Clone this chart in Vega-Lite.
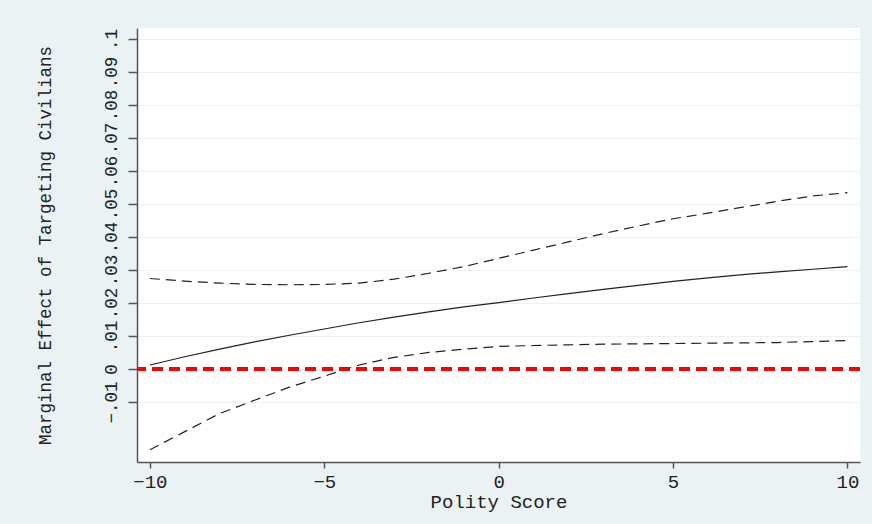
{
  "$schema": "https://vega.github.io/schema/vega-lite/v6.json",
  "width": 723,
  "height": 434,
  "autosize": {"type": "none"},
  "padding": {"left": 137, "top": 28, "right": 12, "bottom": 62},
  "background": "#EAF2F3",
  "config": {
    "view": {"stroke": null, "fill": "white"},
    "font": "Liberation Mono",
    "axis": {
      "labelFont": "Liberation Mono",
      "titleFont": "Liberation Mono",
      "labelColor": "#222",
      "titleColor": "#222",
      "titleFontWeight": "normal",
      "domainColor": "#555",
      "domainWidth": 1.5,
      "tickColor": "#555",
      "tickWidth": 1.5,
      "labelBound": false
    }
  },
  "data": {
    "values": [
      {"polity": -10, "est": 0.0012, "lo": -0.0245, "hi": 0.0274},
      {"polity": -9, "est": 0.0037, "lo": -0.019, "hi": 0.0266},
      {"polity": -8, "est": 0.006, "lo": -0.0135, "hi": 0.026},
      {"polity": -7, "est": 0.0082, "lo": -0.0095, "hi": 0.0256},
      {"polity": -6, "est": 0.0102, "lo": -0.0055, "hi": 0.0255},
      {"polity": -5, "est": 0.0121, "lo": -0.0022, "hi": 0.0256},
      {"polity": -4, "est": 0.014, "lo": 0.0012, "hi": 0.026},
      {"polity": -3, "est": 0.0157, "lo": 0.0035, "hi": 0.0272},
      {"polity": -2, "est": 0.0173, "lo": 0.005, "hi": 0.029},
      {"polity": -1, "est": 0.0188, "lo": 0.006, "hi": 0.031},
      {"polity": 0, "est": 0.0201, "lo": 0.0068, "hi": 0.0335},
      {"polity": 1, "est": 0.0215, "lo": 0.0071, "hi": 0.036},
      {"polity": 2, "est": 0.0228, "lo": 0.0073, "hi": 0.0385},
      {"polity": 3, "est": 0.0241, "lo": 0.0075, "hi": 0.041},
      {"polity": 4, "est": 0.0253, "lo": 0.0076, "hi": 0.0433},
      {"polity": 5, "est": 0.0265, "lo": 0.0077, "hi": 0.0455},
      {"polity": 6, "est": 0.0276, "lo": 0.0078, "hi": 0.0472},
      {"polity": 7, "est": 0.0286, "lo": 0.0079, "hi": 0.049},
      {"polity": 8, "est": 0.0294, "lo": 0.008, "hi": 0.0508},
      {"polity": 9, "est": 0.0302, "lo": 0.0083, "hi": 0.0524},
      {"polity": 10, "est": 0.031, "lo": 0.0086, "hi": 0.0534}
    ]
  },
  "layer": [
    {
      "mark": {"type": "line", "color": "#222", "strokeWidth": 1.2},
      "encoding": {
        "x": {
          "field": "polity", "type": "quantitative",
          "scale": {"domain": [-10.37, 10.36], "nice": false, "zero": false},
          "axis": {
            "title": "Polity Score", "values": [-10, -5, 0, 5, 10], "tickCount": 20,
            "grid": false, "tickSize": 6, "labelPadding": 4, "labelOverlap": false,
            "labelFontSize": 19, "titleFontSize": 19, "titlePadding": 1
          }
        },
        "y": {
          "field": "est", "type": "quantitative",
          "scale": {"domain": [-0.0282, 0.1033], "nice": false, "zero": false},
          "axis": {
            "title": "Marginal Effect of Targeting Civilians",
            "values": [-0.01, 0, 0.01, 0.02, 0.03, 0.04, 0.05, 0.06, 0.07, 0.08, 0.09, 0.1],
            "tickCount": 30,
            "labelExpr": "datum.value == 0 ? '0' : replace(format(datum.value, '.2~f'), '0.', '.')",
            "labelAngle": 270, "labelAlign": "center", "labelBaseline": "bottom",
            "labelOverlap": false,
            "grid": true, "gridColor": "#EAF2F3", "gridWidth": 1,
            "tickSize": 9, "labelPadding": 8,
            "labelFontSize": 17.5, "titleFontSize": 17.5, "titlePadding": 48
          }
        }
      }
    },
    {
      "mark": {"type": "line", "color": "#222", "strokeWidth": 1.2, "strokeDash": [10, 6]},
      "encoding": {
        "x": {"field": "polity", "type": "quantitative"},
        "y": {"field": "lo", "type": "quantitative"}
      }
    },
    {
      "mark": {"type": "line", "color": "#222", "strokeWidth": 1.2, "strokeDash": [10, 6]},
      "encoding": {
        "x": {"field": "polity", "type": "quantitative"},
        "y": {"field": "hi", "type": "quantitative"}
      }
    },
    {
      "mark": {"type": "rule", "color": "#FF0000", "strokeWidth": 4, "strokeDash": [11, 6]},
      "encoding": {"y": {"datum": 0}}
    }
  ]
}
